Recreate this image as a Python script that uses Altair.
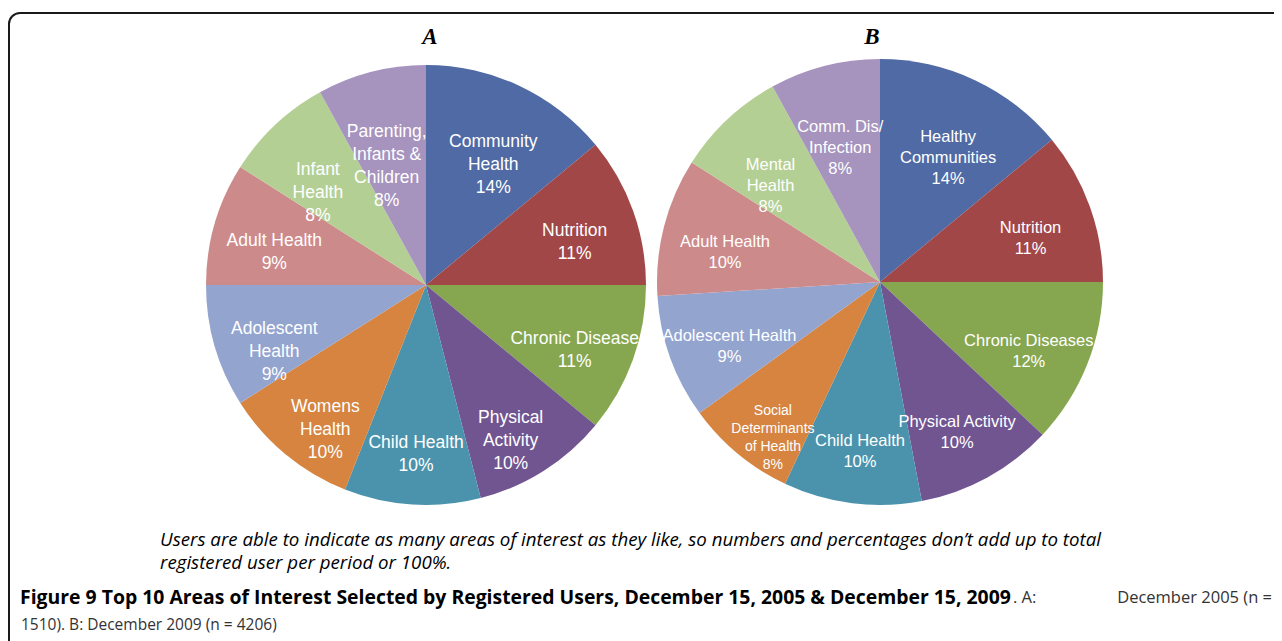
import altair as alt
import pandas as pd

# ---- data ----
names_a = ["Community\nHealth", "Nutrition", "Chronic Disease", "Physical\nActivity",
           "Child Health", "Womens\nHealth", "Adolescent\nHealth", "Adult Health",
           "Infant\nHealth", "Parenting,\nInfants &\nChildren"]
pct_a = [14, 11, 11, 10, 10, 10, 9, 9, 8, 8]

names_b = ["Healthy\nCommunities", "Nutrition", "Chronic Diseases", "Physical Activity",
           "Child Health", "Social\nDeterminants\nof Health", "Adolescent Health",
           "Adult Health", "Mental\nHealth", "Comm. Dis/\nInfection"]
pct_b = [14, 11, 12, 10, 10, 8, 9, 10, 8, 8]

colors = ["#4F6AA4", "#A24748", "#86A74F", "#715591", "#4B93AC",
          "#D6843F", "#93A4CF", "#CD8A8B", "#B4CF94", "#A693BE"]

panel_titles = ["A", "B"]
note_lines = ["Users are able to indicate as many areas of interest as they like, so numbers and percentages don\u2019t add up to total",
              "registered user per period or 100%."]
fig_bold = "Figure 9 Top 10 Areas of Interest Selected by Registered Users, December 15, 2005 & December 15, 2009"
fig_rest_a = ". A:"
fig_rest_b = "December 2005 (n ="
fig_line2 = "1510). B: December 2009 (n = 4206)"

df_a = pd.DataFrame({"idx": list(range(10)), "name": names_a, "pct": pct_a})
df_b = pd.DataFrame({"idx": list(range(10)), "name": names_b, "pct": pct_b})

color_scale = alt.Scale(domain=list(range(10)), range=colors)
LABEL_FONT = "Liberation Sans"


def pie(df, cx, cy, r, label_r, fsize, lh, small=None):
    arcs = alt.Chart(df).mark_arc(outerRadius=r, strokeWidth=0).encode(
        theta=alt.Theta("pct:Q", stack=True),
        order=alt.Order("idx:Q"),
        color=alt.Color("idx:N", scale=color_scale, legend=None),
        x=alt.value(cx), y=alt.value(cy),
    )
    base = alt.Chart(df).transform_joinaggregate(
        total="sum(pct)"
    ).transform_window(
        cum="sum(pct)", sort=[alt.SortField("idx", order="ascending")], frame=[None, 0]
    ).transform_calculate(
        mid="(datum.cum - datum.pct / 2) / datum.total",
        label="datum.name + '\\n' + datum.pct + '%'",
    )
    enc = dict(
        theta=alt.Theta("mid:Q", scale=alt.Scale(domain=[0, 1]), stack=False),
        text="label:N",
        x=alt.value(cx), y=alt.value(cy),
    )
    layers = [arcs]
    main = base
    if small is not None:
        main = base.transform_filter(f"datum.idx != {small}")
    layers.append(main.mark_text(radius=label_r, color="white", font=LABEL_FONT, lineBreak="\n",
                                 fontSize=fsize, lineHeight=lh, align="center",
                                 baseline="middle").encode(**enc))
    if small is not None:
        layers.append(base.transform_filter(f"datum.idx == {small}").mark_text(
            radius=label_r + 8, color="white", font=LABEL_FONT, lineBreak="\n",
            fontSize=14, lineHeight=18, align="center", baseline="middle").encode(**enc))
    return layers


layers_a = pie(df_a, 418, 277, 220, 158, 17.5, 23)
layers_b = pie(df_b, 872, 274, 223, 160, 16.5, 21, small=5)

frame = alt.Chart(pd.DataFrame({"k": [0]})).mark_rect(
    fill="white", fillOpacity=0, stroke="#1a1a1a", strokeWidth=2, cornerRadiusTopLeft=11
).encode(x=alt.value(1), x2=alt.value(1400), y=alt.value(5), y2=alt.value(800))

tdf = pd.DataFrame({"t": panel_titles, "px": [422, 864]})
titles = alt.Chart(tdf).mark_text(font="Liberation Serif", fontStyle="italic", fontWeight="bold",
                                  fontSize=23, baseline="middle", align="center", color="black").encode(
    text="t:N", x=alt.X("px:Q", scale=None), y=alt.value(29))

ndf = pd.DataFrame({"t": note_lines, "row": [0, 1]})
note = alt.Chart(ndf).mark_text(font="Open Sans", fontStyle="italic", fontSize=18.7, align="left",
                                baseline="middle", color="black").encode(
    text="t:N", x=alt.value(152),
    y=alt.Y("row:Q", scale=alt.Scale(domain=[0, 1], range=[532, 555]), axis=None))

cap1 = alt.Chart(pd.DataFrame({"t": [fig_bold]})).mark_text(
    font="Open Sans", fontWeight="bold", fontSize=19.4, align="left", baseline="middle", color="black"
).encode(text="t:N", x=alt.value(12), y=alt.value(590))
cap2 = alt.Chart(pd.DataFrame({"t": [fig_rest_a]})).mark_text(
    font="Open Sans", fontSize=16.5, align="left", baseline="middle", color="#333"
).encode(text="t:N", x=alt.value(1005), y=alt.value(590))
cap2b = alt.Chart(pd.DataFrame({"t": [fig_rest_b]})).mark_text(
    font="Open Sans", fontSize=16.5, align="right", baseline="middle", color="#333"
).encode(text="t:N", x=alt.value(1264), y=alt.value(590))
cap3 = alt.Chart(pd.DataFrame({"t": [fig_line2]})).mark_text(
    font="Open Sans", fontSize=15.5, align="left", baseline="middle", color="#333"
).encode(text="t:N", x=alt.value(13), y=alt.value(617))

chart = alt.layer(frame, *layers_a, *layers_b, titles, note, cap1, cap2, cap2b, cap3).resolve_scale(
    theta="independent"
).properties(
    width=1266, height=633, padding=0, autosize=alt.AutoSizeParams(type="none"), background="white"
).configure_view(stroke=None)

chart.save("out.html", embed_options={"renderer": "svg", "actions": False})
